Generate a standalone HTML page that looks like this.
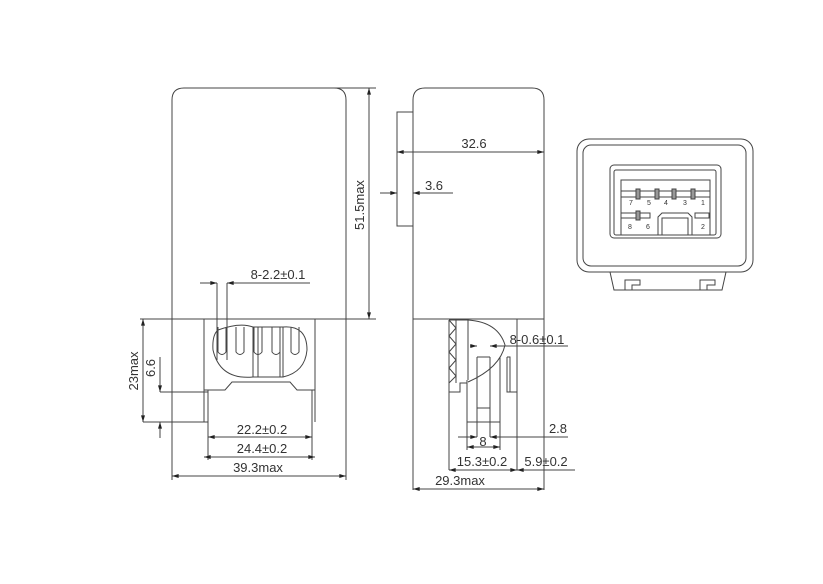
<!DOCTYPE html>
<html><head><meta charset="utf-8"><style>body{margin:0;background:#fff}svg{display:block}text{font-family:"Liberation Sans",sans-serif;fill:#333}</style></head><body>
<svg width="823" height="584" viewBox="0 0 823 584" xmlns="http://www.w3.org/2000/svg">
<defs><marker id="a" viewBox="0 0 10 6" refX="10" refY="3" markerWidth="7" markerHeight="4" orient="auto-start-reverse"><path d="M0,0L10,3L0,6z" fill="#222"/></marker></defs>
<g stroke="#444" stroke-width="1" fill="none">
<!-- LEFT VIEW -->
<path d="M172,480V100Q172,88 184,88H334Q346,88 346,100V480"/>
<line x1="140" y1="319" x2="376" y2="319"/>
<line x1="334" y1="88" x2="376" y2="88"/>
<path d="M204,319V422M315,319V422"/>
<path d="M204,390H225L232,382H290L297,390H315"/>
<path d="M208,390V460M312,390V460"/>
<line x1="143" y1="422" x2="208" y2="422"/>
<path d="M218,330Q240,322 253,327H283Q307,325 307,350Q305,372 283,377H253Q220,380 213,350Q212,335 218,330Z"/>
<path d="M218,327V352Q222,357 226,352V327M236,327V352Q240,357 244,352V327M254,327V352Q258,357 262,352V327M272,327V352Q276,357 280,352V327M291,327V352Q295,357 299,352V327"/>
<path d="M253,327V377M258,327V377M280,327V377M283,327V377"/>
<!-- left dims -->
<line x1="143" y1="319" x2="143" y2="422" marker-start="url(#a)" marker-end="url(#a)"/>
<line x1="160" y1="357" x2="160" y2="392" marker-end="url(#a)"/>
<line x1="160" y1="422" x2="160" y2="438" marker-start="url(#a)"/>
<line x1="160" y1="392" x2="208" y2="392"/>
<line x1="217" y1="283" x2="217" y2="360"/><line x1="227" y1="283" x2="227" y2="360"/>
<line x1="200" y1="283" x2="217" y2="283" marker-end="url(#a)"/>
<line x1="227" y1="283" x2="310" y2="283" marker-start="url(#a)"/>
<line x1="369" y1="88" x2="369" y2="319" marker-start="url(#a)" marker-end="url(#a)"/>
<line x1="208" y1="437" x2="312" y2="437" marker-start="url(#a)" marker-end="url(#a)"/>
<line x1="204" y1="457" x2="315" y2="457" marker-start="url(#a)" marker-end="url(#a)"/>
<line x1="172" y1="476" x2="346" y2="476" marker-start="url(#a)" marker-end="url(#a)"/>
<!-- MIDDLE VIEW -->
<path d="M413,490V100Q413,88 425,88H532Q544,88 544,100V490"/>
<rect x="397" y="112" width="16" height="114"/>
<line x1="413" y1="319" x2="544" y2="319"/>
<line x1="397" y1="152" x2="544" y2="152" marker-start="url(#a)" marker-end="url(#a)"/>
<line x1="380" y1="193" x2="397" y2="193" marker-end="url(#a)"/>
<line x1="413" y1="193" x2="453" y2="193" marker-start="url(#a)"/>
<path d="M449,320V392H460V383H467M449,320H468V380"/>
<path d="M449,320L456,328L449,336L456,344L449,352L456,360L449,368L456,376L449,383M456,320V383"/>
<path d="M468,320Q498,322 505,345Q500,368 468,382"/>
<path d="M467,380V422H500V357M477,357V422M490,357V422M477,408H490M477,357H490"/>
<path d="M507,357V392H517M507,357H510V392"/>
<line x1="517" y1="319" x2="517" y2="470"/>
<line x1="449" y1="392" x2="449" y2="470"/>
<line x1="467" y1="422" x2="467" y2="450"/><line x1="500" y1="422" x2="500" y2="450"/>
<line x1="477" y1="422" x2="477" y2="437"/><line x1="490" y1="422" x2="490" y2="437"/>
<line x1="470" y1="346" x2="477" y2="346" marker-end="url(#a)"/>
<line x1="490" y1="346" x2="568" y2="346" marker-start="url(#a)"/>
<line x1="458" y1="437" x2="477" y2="437" marker-end="url(#a)"/>
<line x1="490" y1="437" x2="568" y2="437" marker-start="url(#a)"/>
<line x1="467" y1="447" x2="500" y2="447" marker-start="url(#a)" marker-end="url(#a)"/>
<line x1="449" y1="470" x2="517" y2="470" marker-start="url(#a)" marker-end="url(#a)"/>
<line x1="517" y1="470" x2="575" y2="470" marker-start="url(#a)"/>
<line x1="413" y1="489" x2="544" y2="489" marker-start="url(#a)" marker-end="url(#a)"/>
<!-- RIGHT VIEW -->
<rect x="577" y="139" width="176" height="133" rx="12"/>
<rect x="583" y="145" width="163" height="121" rx="8"/>
<rect x="610" y="165" width="111" height="73" rx="4"/>
<rect x="614" y="170" width="102" height="65" rx="2"/>
<path d="M621,235V180H710V235"/>
<rect x="621" y="191" width="89" height="6"/>
<rect x="636" y="189" width="4" height="10" fill="#999"/><rect x="655" y="189" width="4" height="10" fill="#999"/><rect x="672" y="189" width="4" height="10" fill="#999"/><rect x="691" y="189" width="4" height="10" fill="#999"/>
<rect x="621" y="213" width="29" height="5"/>
<rect x="636" y="211" width="4" height="9" fill="#999"/>
<path d="M658,235V217L662,213H688L692,217V235"/>
<path d="M662,235V218H688V235"/>
<rect x="695" y="213" width="14" height="5"/>
<path d="M610,272L614,290H722L726,272"/>
<path d="M625,290V280H640V285H632V290M700,290V280H715V285H707V290"/>
</g>
<g font-size="13" text-anchor="middle">
<text x="278" y="279">8-2.2±0.1</text>
<text x="262" y="434">22.2±0.2</text>
<text x="262" y="453">24.4±0.2</text>
<text x="258" y="472">39.3max</text>
<text transform="translate(138,371) rotate(-90)">23max</text>
<text transform="translate(155,368) rotate(-90)">6.6</text>
<text transform="translate(364,205) rotate(-90)">51.5max</text>
<text x="474" y="148">32.6</text>
<text x="434" y="190">3.6</text>
<text x="537" y="344">8-0.6±0.1</text>
<text x="558" y="433">2.8</text>
<text x="483" y="446">8</text>
<text x="482" y="466">15.3±0.2</text>
<text x="546" y="466">5.9±0.2</text>
<text x="460" y="485">29.3max</text>
</g>
<g font-size="7" text-anchor="middle">
<text x="631" y="205">7</text><text x="649" y="205">5</text><text x="666" y="205">4</text><text x="685" y="205">3</text><text x="703" y="205">1</text>
<text x="630" y="229">8</text><text x="648" y="229">6</text><text x="703" y="229">2</text>
</g>
</svg>
</body></html>
